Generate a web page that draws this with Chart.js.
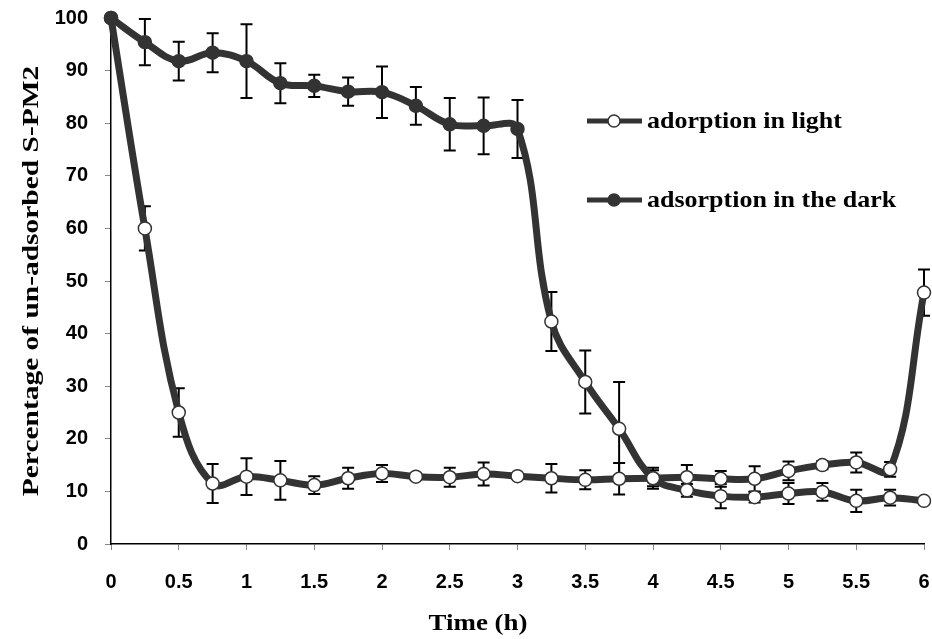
<!DOCTYPE html>
<html>
<head>
<meta charset="utf-8">
<script src="https://cdn.jsdelivr.net/npm/chart.js@4.4.1/dist/chart.umd.min.js"></script>
<style>
  html, body { margin: 0; padding: 0; background: #fff; }
  canvas { display: block; }
</style>
</head>
<body>
<canvas id="myChart" width="932" height="639"></canvas>
<script>
// sampling times (h)
const times = [0, 0.25, 0.5, 0.75, 1, 1.25, 1.5, 1.75, 2, 2.25, 2.5, 2.75, 3,
               3.25, 3.5, 3.75, 4, 4.25, 4.5, 4.75, 5, 5.25, 5.5, 5.75, 6];

// adorption in light
const lightValues = [100, 60.0, 25.0, 11.5, 12.8, 12.1, 11.2, 12.5, 13.4, 12.8, 12.7, 13.3, 12.9,
                     12.5, 12.2, 12.4, 12.5, 12.7, 12.4, 12.4, 13.9, 15.0, 15.5, 14.2, 47.8];
const lightErrors = [0, 4.2, 4.6, 3.7, 3.5, 3.7, 1.7, 2.0, 1.6, 0.6, 1.8, 2.2, 0.4,
                     2.7, 1.8, 3.0, 2.0, 2.3, 1.5, 2.4, 1.8, 0.8, 1.9, 1.4, 4.4];

// adsorption in the dark
const darkValues = [100, 95.4, 91.8, 93.4, 91.8, 87.6, 87.1, 86.0, 85.9, 83.3, 79.8, 79.5, 78.9,
                    42.3, 30.8, 21.9, 12.5, 10.2, 9.1, 8.9, 9.6, 9.9, 8.2, 8.8, 8.2];
const darkErrors = [0, 4.4, 3.7, 3.7, 7.0, 3.8, 2.1, 2.7, 4.9, 3.6, 5.0, 5.4, 5.5,
                    5.6, 6.0, 8.9, 1.5, 1.2, 2.3, 1.0, 2.0, 1.7, 2.1, 1.5, 0];

const seriesNames = ['adorption in light', 'adsorption in the dark'];
const xTitle = 'Time (h)';
const yTitle = 'Percentage of un-adsorbed S-PM2';
const darkOpenFrom = 3.25; // dark markers are drawn hollow from this time on

const lineColor = '#333333';
const tickFont = { family: '"Liberation Sans", Arial, sans-serif', size: 20, weight: 'bold' };
const serif = '"Liberation Serif", "Times New Roman", serif';

const toPoints = (vals) => times.map((t, i) => ({ x: t, y: vals[i] }));

// text drawn a bit wider than the font, like the stretched original
function wideText(ctx, text, x, y, stretch) {
  ctx.save();
  ctx.translate(x, y);
  ctx.scale(stretch, 1);
  ctx.fillText(text, 0, 0);
  ctx.restore();
}

// vertical error bars with caps
const errorBars = {
  id: 'errorBars',
  beforeDatasetsDraw(chart) {
    const { ctx, scales: { x, y } } = chart;
    ctx.save();
    ctx.strokeStyle = '#000';
    ctx.lineWidth = 2;
    chart.data.datasets.forEach(ds => {
      ds.errors.forEach((e, i) => {
        if (!e) return;
        const p = ds.data[i];
        const px = x.getPixelForValue(p.x);
        const top = y.getPixelForValue(p.y + e);
        const bot = y.getPixelForValue(p.y - e);
        ctx.beginPath();
        ctx.moveTo(px, top); ctx.lineTo(px, bot);
        ctx.moveTo(px - 6, top); ctx.lineTo(px + 6, top);
        ctx.moveTo(px - 6, bot); ctx.lineTo(px + 6, bot);
        ctx.stroke();
      });
    });
    ctx.restore();
  }
};

// legend inside plot + axis titles
const decorations = {
  id: 'decorations',
  afterDraw(chart) {
    const { ctx, chartArea } = chart;
    ctx.save();
    const lx = chartArea.left + 476;
    const rows = [chartArea.top + 103, chartArea.top + 182];
    chart.data.datasets.forEach((ds, i) => {
      const yy = rows[i];
      ctx.strokeStyle = lineColor;
      ctx.lineWidth = 5;
      ctx.beginPath();
      ctx.moveTo(lx, yy); ctx.lineTo(lx + 55, yy);
      ctx.stroke();
      ctx.beginPath();
      ctx.arc(lx + 27, yy, 6, 0, Math.PI * 2);
      ctx.fillStyle = i === 0 ? '#fff' : lineColor;
      ctx.fill();
      ctx.lineWidth = 1.5;
      ctx.stroke();
      ctx.fillStyle = '#000';
      ctx.font = 'bold 23px ' + serif;
      ctx.textAlign = 'left';
      ctx.textBaseline = 'middle';
      wideText(ctx, ds.label, lx + 60, yy + 1, 1.13);
    });

    ctx.font = 'bold 23px ' + serif;
    ctx.textAlign = 'center';
    ctx.textBaseline = 'alphabetic';
    wideText(ctx, xTitle, 478, 630, 1.17);
    ctx.translate(38, 281);
    ctx.rotate(-Math.PI / 2);
    wideText(ctx, yTitle, 0, 0, 1.28);
    ctx.restore();
  }
};

const ctx = document.getElementById('myChart').getContext('2d');
new Chart(ctx, {
  type: 'line',
  data: {
    datasets: [
      {
        label: seriesNames[0],
        data: toPoints(lightValues),
        errors: lightErrors,
        borderColor: lineColor,
        borderWidth: 7,
        tension: 0.4,
        pointRadius: 6.5,
        pointBackgroundColor: '#fff',
        pointBorderColor: lineColor,
        pointBorderWidth: 1.5,
        clip: false,
        order: 1
      },
      {
        label: seriesNames[1],
        data: toPoints(darkValues),
        errors: darkErrors,
        borderColor: lineColor,
        borderWidth: 7,
        tension: 0.4,
        pointRadius: 6.5,
        pointBackgroundColor: c => (c.raw && c.raw.x >= darkOpenFrom) ? '#fff' : lineColor,
        pointBorderColor: lineColor,
        pointBorderWidth: 1.5,
        clip: false,
        order: 0
      }
    ]
  },
  options: {
    responsive: false,
    animation: false,
    layout: { autoPadding: false, padding: { top: 18, right: 8, left: 0, bottom: 0 } },
    plugins: { legend: { display: false }, tooltip: { enabled: false } },
    scales: {
      x: {
        type: 'linear',
        min: 0, max: 6,
        ticks: { stepSize: 0.5, color: '#000', font: tickFont, padding: 20, maxRotation: 0,
                 callback: v => String(v) },
        grid: { drawOnChartArea: false, tickLength: 6, color: '#888' },
        border: { color: '#000', width: 1.5 },
        afterFit: s => { s.height = 95; s.paddingLeft = 0; s.paddingRight = 0; }
      },
      y: {
        min: 0, max: 100,
        ticks: { stepSize: 10, color: '#000', font: tickFont, padding: 17 },
        grid: { drawOnChartArea: false, tickLength: 6, color: '#888' },
        border: { color: '#000', width: 1.5 },
        afterFit: s => { s.width = 111; s.paddingTop = 0; s.paddingBottom = 0; }
      }
    }
  },
  plugins: [errorBars, decorations]
});
</script>
</body>
</html>
